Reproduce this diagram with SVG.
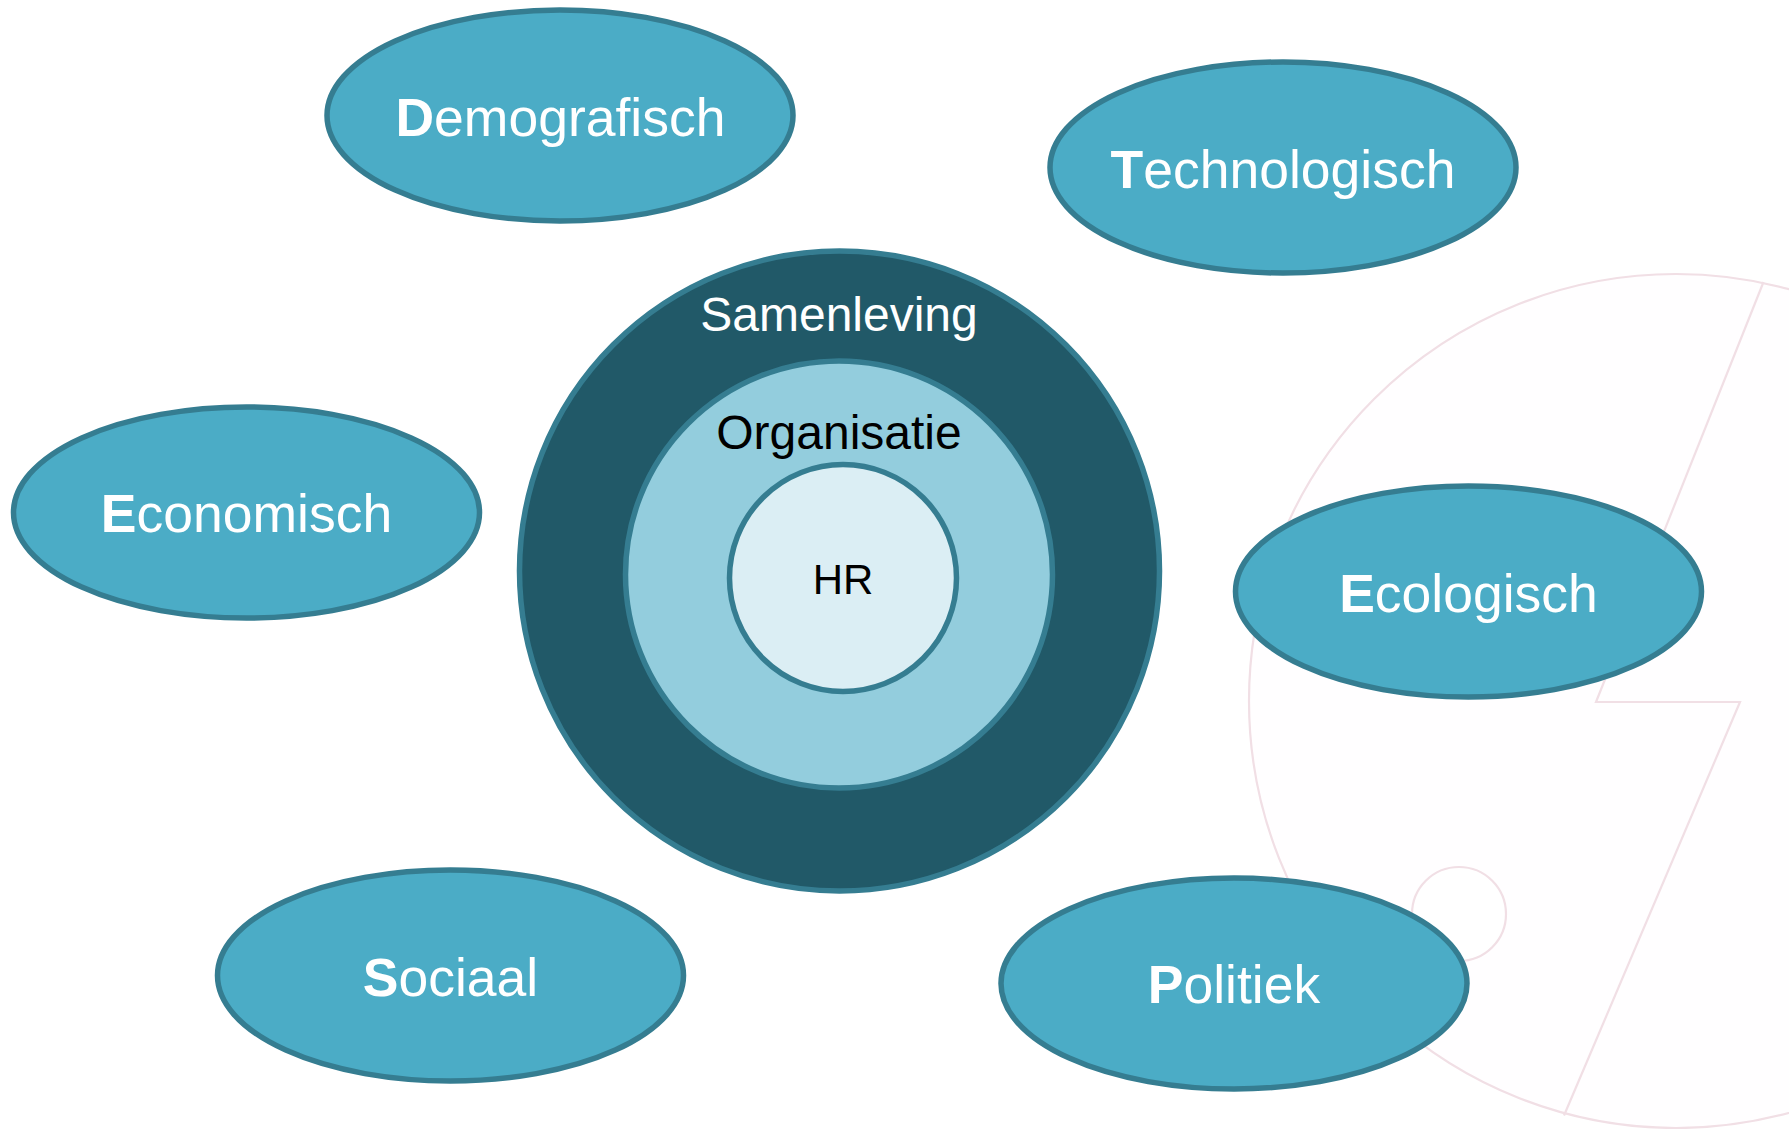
<svg xmlns="http://www.w3.org/2000/svg" width="1789" height="1129" viewBox="0 0 1789 1129">
<style>
.factor{fill:#4bacc6;stroke:#357d91;stroke-width:5.500}
.ring{stroke:#357d91;stroke-width:5.500}
.wm{stroke:#f1dfe5;stroke-width:2.200}
text{font-family:"Liberation Sans",Arial,sans-serif;text-anchor:middle}
.flabel{font-size:53.500px;fill:#fff}
.flabel tspan{font-weight:bold}
</style>
<rect width="1789" height="1129" fill="#ffffff"/>
<g id="watermark">
<circle class="wm" cx="1676" cy="701" r="427" fill="#fffeff"/>
<path class="wm" d="M1763.500 282L1596 702H1740L1564 1115.500" fill="#fffeff"/>
<circle class="wm" cx="1459" cy="914" r="47" fill="#ffffff"/>
</g>
<g id="samenleving">
<circle class="ring" cx="839.500" cy="571" r="320" fill="#215968"/>
<text x="839" y="331" font-size="48" fill="#fff">Samenleving</text>
</g>
<g id="organisatie">
<circle class="ring" cx="839" cy="574.500" r="213.500" fill="#93cddd"/>
<text x="839" y="449" font-size="48" fill="#000">Organisatie</text>
</g>
<g id="hr">
<circle class="ring" cx="843" cy="578" r="113.500" fill="#dbeef4"/>
<text x="843" y="594" font-size="42" fill="#000">HR</text>
</g>
<g id="demografisch"><ellipse class="factor" cx="560" cy="115.500" rx="233" ry="105.500"/><text class="flabel" x="560.500" y="135.500"><tspan>D</tspan>emografisch</text></g>
<g id="technologisch"><ellipse class="factor" cx="1283" cy="167.500" rx="233" ry="105.500"/><text class="flabel" x="1283" y="187.500"><tspan>T</tspan>echnologisch</text></g>
<g id="economisch"><ellipse class="factor" cx="246.500" cy="512.500" rx="233" ry="105.500"/><text class="flabel" x="246.500" y="531.500"><tspan>E</tspan>conomisch</text></g>
<g id="ecologisch"><ellipse class="factor" cx="1468.500" cy="591.500" rx="233" ry="105.500"/><text class="flabel" x="1468.500" y="611.500"><tspan>E</tspan>cologisch</text></g>
<g id="sociaal"><ellipse class="factor" cx="450.500" cy="975.500" rx="233" ry="105.500"/><text class="flabel" x="450.500" y="996"><tspan>S</tspan>ociaal</text></g>
<g id="politiek"><ellipse class="factor" cx="1234" cy="983.500" rx="233" ry="105.500"/><text class="flabel" x="1234" y="1003"><tspan>P</tspan>olitiek</text></g>
</svg>
